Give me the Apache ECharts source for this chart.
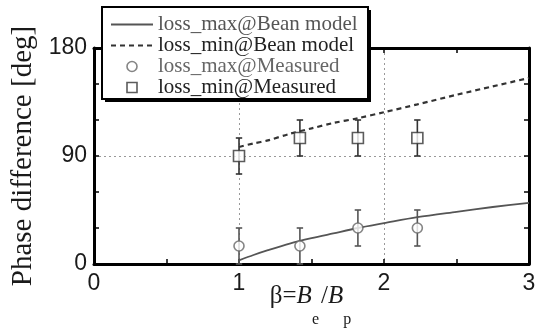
<!DOCTYPE html>
<html>
<head>
<meta charset="utf-8">
<script src="https://cdn.jsdelivr.net/npm/echarts@6/dist/echarts.min.js"></script>
<style>
  html, body { margin: 0; padding: 0; background: #fff; }
  #chart { width: 541px; height: 330px; }
</style>
</head>
<body>
<div id="chart"></div>
<script>
// Bean-model curves
const beanX = [1, 1.1, 1.2, 1.35, 1.5, 1.65, 1.82, 2, 2.23, 2.5, 2.75, 3];
const beanLossMax = [3, 7.5, 11.5, 17, 21.5, 25.5, 30, 34, 39, 43.5, 47.5, 51];
const beanLossMin = [97.5, 100.5, 103, 108.5, 113, 117.5, 121.5, 126.5, 133, 141, 148, 155];

// Measured points with their error half-widths
const measX = [1, 1.42, 1.82, 2.23];
const measLossMax = [15, 15, 30, 30];
const measLossMaxErr = [15, 15, 15, 15];
const measLossMin = [90, 105, 105, 105];
const measLossMinErr = [15, 15, 15, 15];

// Axis ticks
const xTicks = [0, 1, 2, 3];
const yTicks = [0, 90, 180];

const seriesNames = [
  'loss_max@Bean model',
  'loss_min@Bean model',
  'loss_max@Measured',
  'loss_min@Measured'
];

const pairs = (xs, ys) => xs.map((x, i) => [x, ys[i]]);
const errData = (xs, ys, es) => xs.map((x, i) => [x, ys[i] - es[i], ys[i] + es[i]]);

function errorBar(color) {
  return function (params, api) {
    const x = api.value(0);
    const lo = api.coord([x, api.value(1)]);
    const hi = api.coord([x, api.value(2)]);
    const cap = 3.2;
    const style = { stroke: color, lineWidth: 1.6 };
    return {
      type: 'group',
      children: [
        { type: 'line', shape: { x1: lo[0], y1: lo[1], x2: hi[0], y2: hi[1] }, style },
        { type: 'line', shape: { x1: hi[0] - cap, y1: hi[1], x2: hi[0] + cap, y2: hi[1] }, style },
        { type: 'line', shape: { x1: lo[0] - cap, y1: lo[1], x2: lo[0] + cap, y2: lo[1] }, style }
      ]
    };
  };
}

const tickFont = { fontFamily: 'Liberation Sans, Arial, sans-serif', fontSize: 23, color: '#1a1a1a' };
const frameLine = { show: true, onZero: false, lineStyle: { color: '#000', width: 3 } };
const tickStyle = { show: true, inside: true, length: 5, lineStyle: { color: '#000', width: 1.5 } };
const minorStyle = { show: true, length: 5, lineStyle: { color: '#000', width: 1.5 } };
const gridLine = { show: true, lineStyle: { color: '#999', type: [2, 3], width: 1 } };
const serif = 'Liberation Serif, Times New Roman, serif';

const chart = echarts.init(document.getElementById('chart'), null, { renderer: 'canvas' });

chart.setOption({
  animation: false,
  backgroundColor: '#fff',
  grid: { left: 94, right: 12, top: 48, bottom: 66, outerBoundsMode: 'none', containLabel: false },
  // legend frame: white box with a solid drop shadow
  graphic: [
    { type: 'rect', z: 10, shape: { x: 105, y: 10, width: 266, height: 92 }, style: { fill: '#000' } },
    { type: 'rect', z: 11, shape: { x: 102, y: 7, width: 266, height: 92 }, style: { fill: '#fff', stroke: '#000', lineWidth: 2 } }
  ],
  legend: {
    z: 20,
    orient: 'vertical',
    left: 102,
    top: 7,
    padding: [7, 8, 4, 8],
    itemWidth: 42,
    itemHeight: 10,
    itemGap: 0,
    textStyle: { fontFamily: serif, fontSize: 21, lineHeight: 19.7, color: '#222' },
    data: [
      { name: seriesNames[0], textStyle: { color: '#555' }, itemStyle: { opacity: 0 } },
      { name: seriesNames[1], textStyle: { color: '#222' }, itemStyle: { opacity: 0 } },
      {
        name: seriesNames[2], icon: 'circle', textStyle: { color: '#666' },
        itemStyle: { color: '#fff', borderColor: '#666', borderWidth: 1.6 }
      },
      {
        name: seriesNames[3], icon: 'path://M0,0H10V10H0Z', textStyle: { color: '#222' },
        itemStyle: { color: '#fff', borderColor: '#333', borderWidth: 1.6 }
      }
    ]
  },
  xAxis: [
    {
      type: 'value', min: 0, max: 3, interval: 1, position: 'bottom',
      axisLine: frameLine, axisTick: tickStyle,
      minorTick: Object.assign({ splitNumber: 2 }, minorStyle),
      axisLabel: Object.assign({ margin: 8, formatter: v => xTicks.includes(v) ? String(v) : '' }, tickFont),
      splitLine: gridLine,
      name: '{n|β=}{i|B}{s|e}{n|/}{i|B}{s|p}',
      nameLocation: 'middle',
      nameMoveOverlap: false,
      nameGap: 20,
      nameTextStyle: {
        rich: {
          n: { fontFamily: serif, fontSize: 25, color: '#1a1a1a', lineHeight: 44, verticalAlign: 'top' },
          i: { fontFamily: serif, fontSize: 25, fontStyle: 'italic', color: '#1a1a1a', lineHeight: 44, verticalAlign: 'top' },
          s: { fontFamily: serif, fontSize: 16, color: '#1a1a1a', lineHeight: 44, verticalAlign: 'bottom', padding: [0, 2, 0, 0] }
        }
      }
    },
    {
      type: 'value', min: 0, max: 3, interval: 1, position: 'top',
      axisLine: frameLine, axisTick: tickStyle,
      minorTick: Object.assign({ splitNumber: 2 }, minorStyle),
      axisLabel: { show: false }, splitLine: { show: false }
    }
  ],
  yAxis: [
    {
      type: 'value', min: 0, max: 180, interval: 90, position: 'left',
      axisLine: frameLine, axisTick: tickStyle,
      minorTick: Object.assign({ splitNumber: 3 }, minorStyle),
      axisLabel: Object.assign({ margin: 7, formatter: v => yTicks.includes(v) ? String(v) : '' }, tickFont),
      splitLine: gridLine,
      name: 'Phase difference [deg]',
      nameLocation: 'middle',
      nameGap: 49,
      nameTextStyle: { fontFamily: serif, fontSize: 29, color: '#1a1a1a' }
    },
    {
      type: 'value', min: 0, max: 180, interval: 90, position: 'right',
      axisLine: frameLine, axisTick: tickStyle,
      minorTick: Object.assign({ splitNumber: 3 }, minorStyle),
      axisLabel: { show: false }, splitLine: { show: false }
    }
  ],
  series: [
    {
      name: seriesNames[0], type: 'line', data: pairs(beanX, beanLossMax),
      showSymbol: false, symbol: 'none', smooth: 0.3,
      lineStyle: { color: '#555', width: 1.8, type: 'solid' },
      itemStyle: { color: '#555' }
    },
    {
      name: seriesNames[1], type: 'line', data: pairs(beanX, beanLossMin),
      showSymbol: false, symbol: 'none', smooth: 0.3,
      lineStyle: { color: '#333', width: 2.2, type: [5, 4] },
      itemStyle: { color: '#333' }
    },
    {
      name: 'err_max', type: 'custom', data: errData(measX, measLossMax, measLossMaxErr),
      renderItem: errorBar('#555'), z: 3
    },
    {
      name: 'err_min', type: 'custom', data: errData(measX, measLossMin, measLossMinErr),
      renderItem: errorBar('#333'), z: 3
    },
    {
      name: seriesNames[2], type: 'scatter', data: pairs(measX, measLossMax),
      symbol: 'circle', symbolSize: 10, z: 4,
      itemStyle: { color: '#fff', borderColor: '#666', borderWidth: 1.6 }
    },
    {
      name: seriesNames[3], type: 'scatter', data: pairs(measX, measLossMin),
      symbol: 'rect', symbolSize: 11, z: 4,
      itemStyle: { color: '#fff', borderColor: '#333', borderWidth: 1.6 }
    }
  ]
});
</script>
</body>
</html>
